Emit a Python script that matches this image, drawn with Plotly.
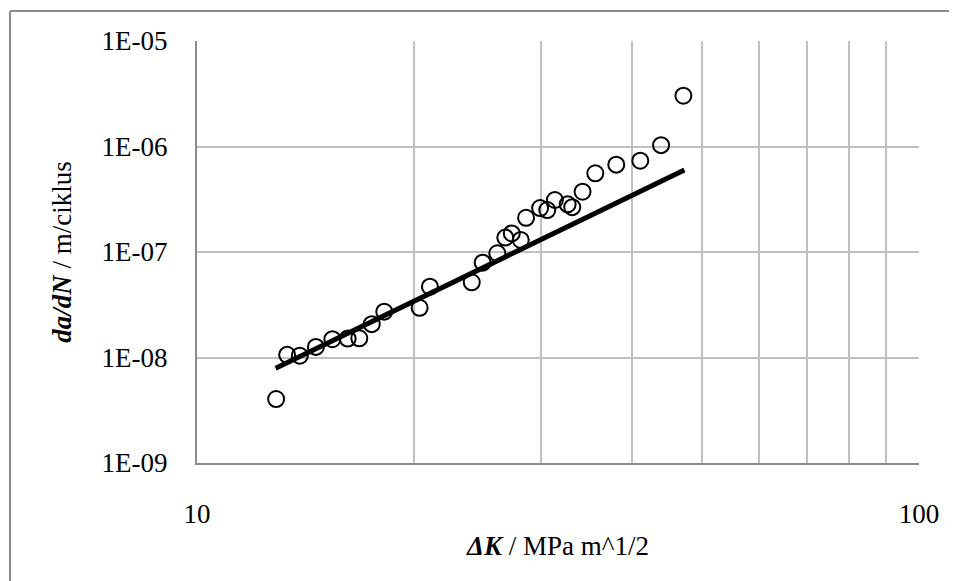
import plotly.graph_objects as go

# Measured data (ΔK in MPa m^1/2, da/dN in m/cycle)
delta_k = [12.87, 13.33, 13.88, 14.61, 15.40, 16.17, 16.78, 17.46, 18.17, 20.34, 21.02,
           24.02, 24.87, 26.06, 26.73, 27.29, 28.08, 28.56, 29.87, 30.56, 31.31, 32.61,
           33.09, 34.2, 35.62, 38.08, 41.11, 43.93, 47.17]
da_dn = [4.04e-9, 1.06e-8, 1.04e-8, 1.26e-8, 1.49e-8, 1.51e-8, 1.52e-8, 2.07e-8, 2.72e-8,
         2.96e-8, 4.69e-8, 5.16e-8, 7.93e-8, 9.73e-8, 1.37e-7, 1.50e-7, 1.30e-7, 2.11e-7,
         2.61e-7, 2.50e-7, 3.11e-7, 2.83e-7, 2.66e-7, 3.73e-7, 5.57e-7, 6.73e-7, 7.33e-7,
         1.03e-6, 3.03e-6]

# Power-law trend line endpoints
fit_k = [12.85, 47.32]
fit_dadn = [7.91e-9, 5.98e-7]

x_tickvals = [10, 20, 30, 40, 50, 60, 70, 80, 90, 100]
x_ticktext = ["10", "", "", "", "", "", "", "", "", "100"]
y_tickvals = [1e-9, 1e-8, 1e-7, 1e-6, 1e-5]
y_ticktext = ["1E-09", "1E-08", "1E-07", "1E-06", "1E-05"]

FONT = "Liberation Serif, Times New Roman, serif"
FS = 27

fig = go.Figure()
fig.add_trace(go.Scatter(
    x=delta_k, y=da_dn, mode="markers",
    marker=dict(symbol="circle-open", size=16, color="black", line=dict(width=2, color="black")),
    showlegend=False, cliponaxis=False,
))
fig.add_trace(go.Scatter(
    x=fit_k, y=fit_dadn, mode="lines",
    line=dict(color="black", width=5),
    showlegend=False,
))

# figure is placed at an 8px page offset
W, H = 949, 573
L, T, R, B = 189, 33, 911, 455
pw, ph = R - L, B - T
FX, FY = 2, 3  # outer frame left/top in figure pixels

fig.update_layout(
    width=W, height=H,
    margin=dict(l=L, r=W - R, t=T, b=H - B, autoexpand=False),
    paper_bgcolor="white", plot_bgcolor="white",
    font=dict(family=FONT, size=FS, color="black"),
    xaxis=dict(
        type="log", range=[1, 2],
        tickvals=x_tickvals, ticktext=x_ticktext,
        showgrid=True, gridcolor="#c0c0c0", gridwidth=1.5,
        showline=True, linecolor="#8c8c8c", linewidth=2,
        ticks="", ticklabelstandoff=26,
        tickfont=dict(family=FONT, size=FS),
        title=dict(text="<b><i>ΔK</i></b> / MPa m^1/2", font=dict(family=FONT, size=FS), standoff=8),
        zeroline=False,
    ),
    yaxis=dict(
        type="log", range=[-9, -5],
        tickvals=y_tickvals, ticktext=y_ticktext,
        showgrid=True, gridcolor="#c0c0c0", gridwidth=1.5,
        showline=True, linecolor="#8c8c8c", linewidth=2,
        ticks="", ticklabelstandoff=22,
        tickfont=dict(family=FONT, size=FS),
        title=dict(text="<b><i>da/dN</i></b> / m/ciklus", font=dict(family=FONT, size=FS), standoff=22),
        zeroline=False,
    ),
    shapes=[
        dict(type="line", xref="paper", yref="paper",
             x0=(FX - L) / pw, x1=(W + 20 - L) / pw,
             y0=1 + (T - FY) / ph, y1=1 + (T - FY) / ph,
             line=dict(color="#8c8c8c", width=2)),
        dict(type="line", xref="paper", yref="paper",
             x0=(FX - L) / pw, x1=(FX - L) / pw,
             y0=1 + (T - FY) / ph, y1=-(H + 20 - B) / ph,
             line=dict(color="#8c8c8c", width=2)),
    ],
)

fig.write_html("out.html")
